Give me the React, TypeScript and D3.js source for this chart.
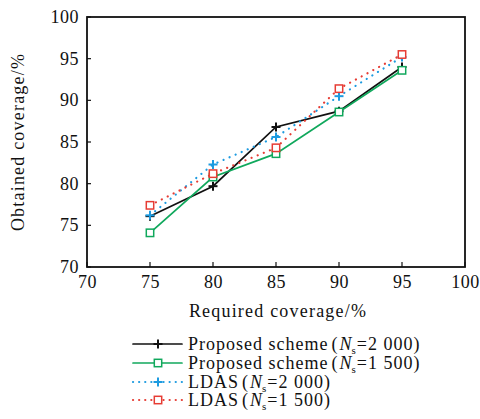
import React from "react";
import * as d3 from "d3";

const xValues = [75, 80, 85, 90, 95];
const proposed2000 = [76.1, 79.7, 86.8, 88.7, 94.0];
const proposed1500 = [74.1, 80.8, 83.6, 88.6, 93.6];
const ldas2000 = [76.2, 82.3, 85.6, 90.5, 95.2];
const ldas1500 = [77.4, 81.2, 84.3, 91.4, 95.5];
const xTicks = [70, 75, 80, 85, 90, 95, 100];
const yTicks = [70, 75, 80, 85, 90, 95, 100];

const series = [
  { name: "Proposed scheme", ns: "2 000", values: proposed2000, color: "#111111", marker: "plus", dotted: false },
  { name: "Proposed scheme", ns: "1 500", values: proposed1500, color: "#10a85c", marker: "square", dotted: false },
  { name: "LDAS", ns: "2 000", values: ldas2000, color: "#1d9be0", marker: "plus", dotted: true },
  { name: "LDAS", ns: "1 500", values: ldas1500, color: "#e63c34", marker: "square", dotted: true },
];

const font = "'Liberation Serif', 'Times New Roman', serif";

function Marker({ type, x, y, color }: { type: string; x: number; y: number; color: string }) {
  if (type === "plus") {
    return (
      <g stroke={color} strokeWidth={2}>
        <line x1={x - 4.5} x2={x + 4.5} y1={y} y2={y} />
        <line x1={x} x2={x} y1={y - 4.5} y2={y + 4.5} />
      </g>
    );
  }
  return <rect x={x - 3.7} y={y - 3.7} width={7.4} height={7.4} fill="white" stroke={color} strokeWidth={1.5} />;
}

export default function App() {
  const W = 480, H = 419;
  const left = 87, right = 465, top = 17, bottom = 267;
  const x = d3.scaleLinear().domain([70, 100]).range([left, right]);
  const y = d3.scaleLinear().domain([70, 100]).range([bottom, top]);
  const line = d3.line<number>().x((_, i) => x(xValues[i])).y((d) => y(d));

  const legendY = [344, 363, 382, 400];

  return (
    <svg width={W} height={H} style={{ position: "absolute", left: 0, top: 0, background: "white" }} fontFamily={font}>
      {xTicks.map((t) => (
        <g key={"xt" + t}>
          <line x1={x(t)} x2={x(t)} y1={bottom} y2={bottom - 5} stroke="#111" strokeWidth={1.2} />
          <text x={x(t) + 0.5} y={288} textAnchor="middle" fontSize={18} letterSpacing={0.5} fill="#111">{t}</text>
        </g>
      ))}
      {yTicks.map((t) => (
        <g key={"yt" + t}>
          <line x1={left} x2={left + 4} y1={y(t)} y2={y(t)} stroke="#111" strokeWidth={1.2} />
          <text x={79} y={y(t) + 6} textAnchor="end" fontSize={18} letterSpacing={0.5} fill="#111">{t}</text>
        </g>
      ))}
      {series.map((s, si) => (
        <g key={"s" + si}>
          <path d={line(s.values) || ""} fill="none" stroke={s.color}
            strokeWidth={s.dotted ? 2.2 : 1.7}
            strokeDasharray={s.dotted ? "0.1 6.5" : ""} strokeLinecap="round" />
          {s.values.map((v, i) => (
            <Marker key={i} type={s.marker} x={x(xValues[i])} y={y(v)} color={s.color} />
          ))}
        </g>
      ))}
      <rect x={left} y={top} width={right - left} height={bottom - top} fill="none" stroke="#111" strokeWidth={1.8} />
      <text x={278} y={317} textAnchor="middle" fontSize={18} letterSpacing={1.2} fill="#111">Required coverage/%</text>
      <text transform={`translate(24,142) rotate(-90)`} textAnchor="middle" fontSize={18} letterSpacing={1.2} fill="#111">Obtained coverage/%</text>
      {series.map((s, si) => {
        const ly = legendY[si];
        return (
          <g key={"lg" + si}>
            <line x1={133} x2={182} y1={ly} y2={ly} stroke={s.color}
              strokeWidth={s.dotted ? 2.2 : 1.7}
              strokeDasharray={s.dotted ? "0.1 6" : ""} strokeLinecap="round" />
            <Marker type={s.marker} x={158} y={ly} color={s.color} />
            <text x={188} y={ly + 6} fontSize={18} letterSpacing={1} fill="#111">
              {s.name}
              <tspan dx={3}>(</tspan>
              <tspan fontStyle="italic" dx={1} letterSpacing={0}>N</tspan>
              <tspan fontSize={11} dy={4}>s</tspan>
              <tspan dy={-4}>=</tspan>
              <tspan>{s.ns})</tspan>
            </text>
          </g>
        );
      })}
    </svg>
  );
}
